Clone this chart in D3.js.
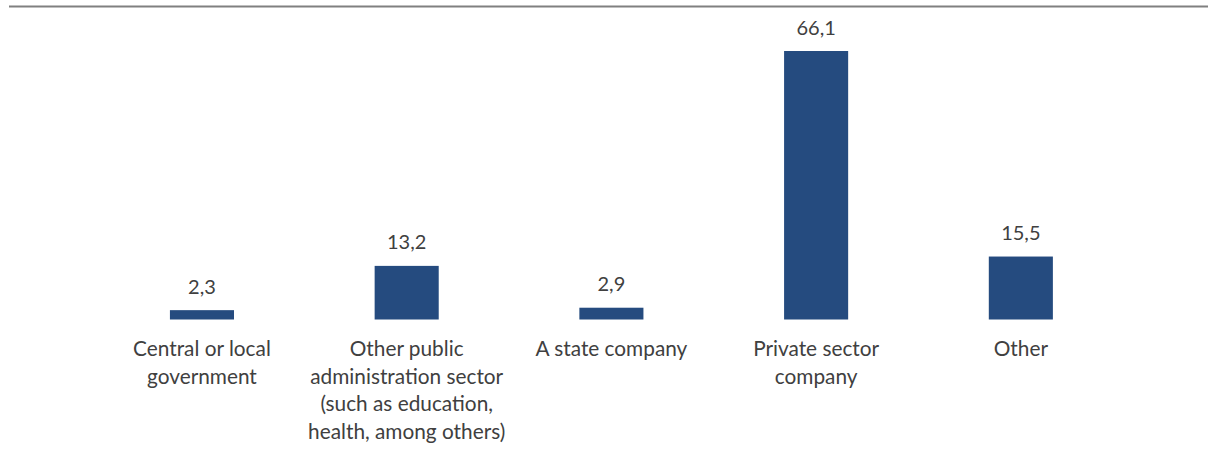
<!DOCTYPE html>
<html>
<head>
<meta charset="utf-8">
<script src="https://cdn.jsdelivr.net/npm/d3@7"></script>
<style>
  html, body { margin: 0; padding: 0; background: #fff; }
  svg { display: block; }
  text { font-family: Lato, "Open Sans", sans-serif; fill: #404040; }
</style>
</head>
<body>
<svg id="chart" width="1208" height="450"></svg>
<script>
// Share of employment by type of employer (%)
const categories = [
  "Central or local government",
  "Other public administration sector (such as education, health, among others)",
  "A state company",
  "Private sector company",
  "Other"
];
const categoryLines = [
  ["Central or local", "government"],
  ["Other public", "administration sector", "(such as education,", "health, among others)"],
  ["A state company"],
  ["Private sector", "company"],
  ["Other"]
];
const values = [2.3, 13.2, 2.9, 66.1, 15.5];

const W = 1208, H = 450;
const svg = d3.select("#chart");

const x = d3.scaleBand()
  .domain(categories)
  .range([99.6, 1123.2])
  .paddingInner(0.687)
  .paddingOuter(0.3435);

const y = d3.scaleLinear()
  .domain([0, 66.1])
  .range([319.5, 51]);

const fmt = v => d3.format(".1f")(v).replace(".", ",");

// top rule
svg.append("line")
  .attr("x1", 9).attr("x2", W)
  .attr("y1", 6.5).attr("y2", 6.5)
  .attr("stroke", "#808080")
  .attr("stroke-width", 2);

// bars
svg.append("g").selectAll("rect")
  .data(values)
  .join("rect")
  .attr("x", (d, i) => x(categories[i]))
  .attr("width", x.bandwidth())
  .attr("y", d => y(d))
  .attr("height", d => y(0) - y(d))
  .attr("fill", "#254B7F");

// value labels
svg.append("g").selectAll("text")
  .data(values)
  .join("text")
  .attr("x", (d, i) => x(categories[i]) + x.bandwidth() / 2)
  .attr("y", d => y(d) - 16.5)
  .attr("text-anchor", "middle")
  .attr("font-size", 20)
  .text(d => fmt(d));

// category labels
const lab = svg.append("g").selectAll("text")
  .data(categories)
  .join("text")
  .attr("text-anchor", "middle")
  .attr("font-size", 20.8)
  .attr("transform", d => `translate(${x(d) + x.bandwidth() / 2},${355.8})`);
lab.each(function(d, i) {
  d3.select(this).selectAll("tspan")
    .data(categoryLines[i])
    .join("tspan")
    .attr("x", 0)
    .attr("y", (t, j) => j * 27.8)
    .text(t => t);
});
</script>
</body>
</html>
